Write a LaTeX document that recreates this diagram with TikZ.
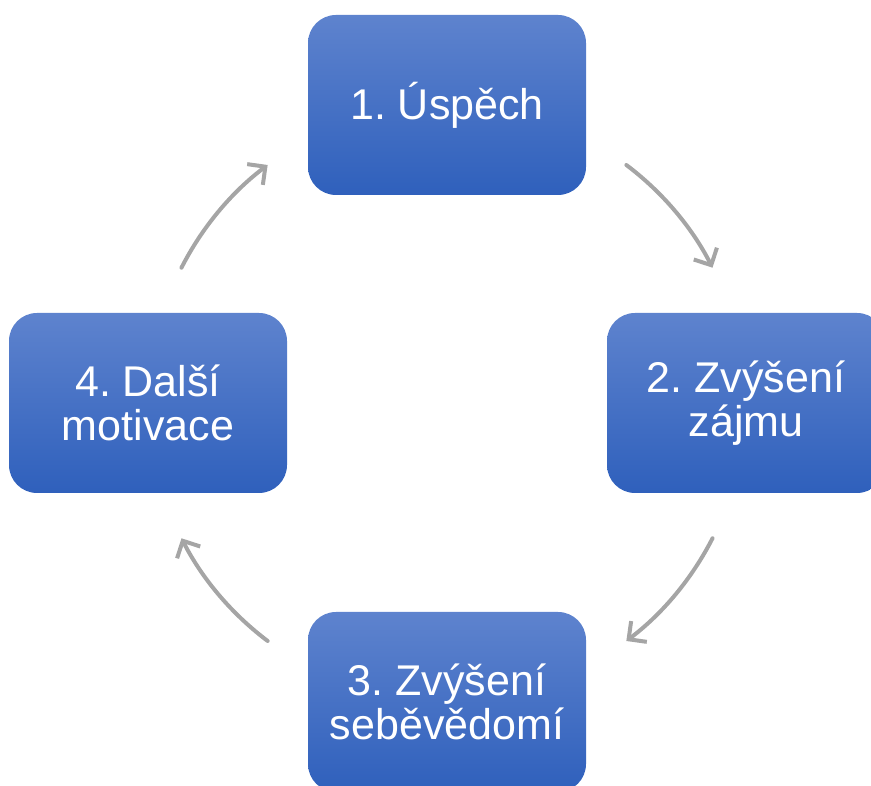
\documentclass[tikz,border=0pt]{standalone}
\usepackage{fontspec}
\setmainfont{Liberation Sans}
\usetikzlibrary{arrows.meta,calc}
\definecolor{boxtop}{RGB}{94,131,206}
\definecolor{boxbot}{RGB}{47,96,188}
\definecolor{arrowgray}{RGB}{165,165,165}
\tikzset{
  stagebox/.style={rounded corners=28pt, minimum width=278pt, minimum height=180pt,
    top color=boxtop, bottom color=boxbot, draw=none, text=white,
    font=\fontsize{43}{44}\selectfont\frenchspacing, align=center, inner sep=0pt},
  cyc/.style={draw=arrowgray, line width=4pt, line cap=round,
    -{Straight Barb[length=13pt,width=26pt,line width=4pt]}}
}
\begin{document}
\begin{tikzpicture}[x=1pt,y=1pt]
\useasboundingbox (0,0) rectangle (871,786);
\coordinate (c) at (447,383);
\node[stagebox] (n1) at (447,681) {1. Úspěch};
\node[stagebox] (n2) at (746,383) {2. Zvýšení\\zájmu};
\node[stagebox] (n3) at (447,84) {3. Zvýšení\\seběvědomí};
\node[stagebox] (n4) at (148,383) {4. Další\\motivace};
\coordinate (s1) at ($(c)+(53:298)$);
\coordinate (s2) at ($(c)+(-27:298)$);
\coordinate (s3) at ($(c)+(-127:298)$);
\coordinate (s4) at ($(c)+(153:298)$);
\draw[cyc] (s1) arc[start angle=53, end angle=27, radius=298];
\draw[cyc] (s2) arc[start angle=-27, end angle=-53, radius=298];
\draw[cyc] (s3) arc[start angle=-127, end angle=-153, radius=298];
\draw[cyc] (s4) arc[start angle=153, end angle=127, radius=298];
\end{tikzpicture}
\end{document}
